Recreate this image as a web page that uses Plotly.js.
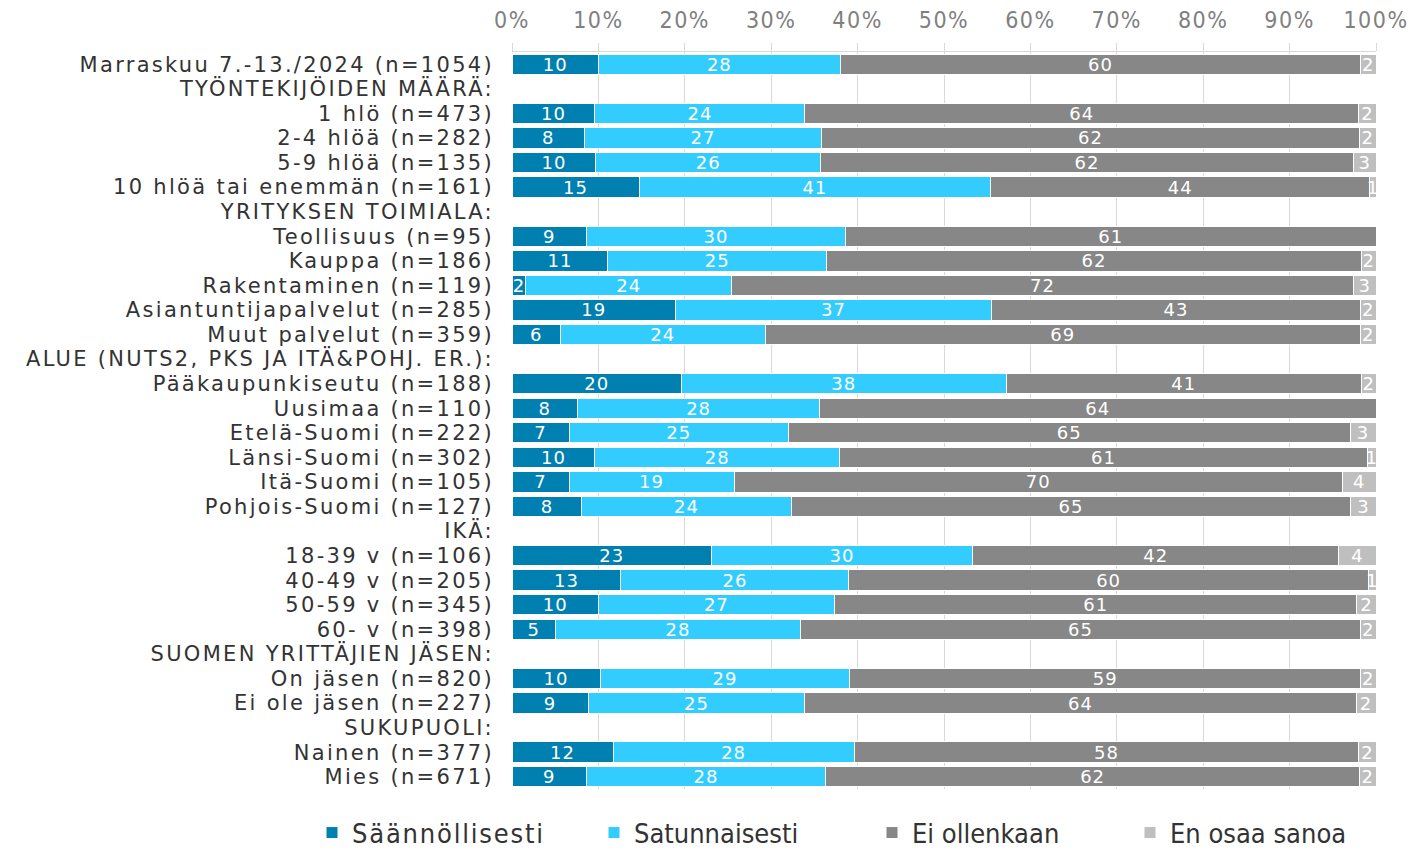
<!DOCTYPE html>
<html>
<head>
<meta charset="utf-8">
<script src="https://cdn.plot.ly/plotly-3.0.1.min.js"></script>
<style>
html,body{margin:0;padding:0;background:#fff;}
#chart{width:1415px;height:850px;}
#chart .ytick text{letter-spacing:2.3px;}
#chart .xtick text{letter-spacing:1.5px;}
#chart .legendtext{letter-spacing:1.8px;}
#chart .bartext{letter-spacing:1px;}
</style>
</head>
<body>
<div id="chart"></div>
<script>
const categories = [
  "Marraskuu 7.-13./2024 (n=1054)",
  "TYÖNTEKIJÖIDEN MÄÄRÄ:",
  "1 hlö (n=473)",
  "2-4 hlöä (n=282)",
  "5-9 hlöä (n=135)",
  "10 hlöä tai enemmän (n=161)",
  "YRITYKSEN TOIMIALA:",
  "Teollisuus (n=95)",
  "Kauppa (n=186)",
  "Rakentaminen (n=119)",
  "Asiantuntijapalvelut (n=285)",
  "Muut palvelut (n=359)",
  "ALUE (NUTS2, PKS JA ITÄ&POHJ. ER.):",
  "Pääkaupunkiseutu (n=188)",
  "Uusimaa (n=110)",
  "Etelä-Suomi (n=222)",
  "Länsi-Suomi (n=302)",
  "Itä-Suomi (n=105)",
  "Pohjois-Suomi (n=127)",
  "IKÄ:",
  "18-39 v (n=106)",
  "40-49 v (n=205)",
  "50-59 v (n=345)",
  "60- v (n=398)",
  "SUOMEN YRITTÄJIEN JÄSEN:",
  "On jäsen (n=820)",
  "Ei ole jäsen (n=227)",
  "SUKUPUOLI:",
  "Nainen (n=377)",
  "Mies (n=671)"
];
const seriesNames = ["Säännöllisesti", "Satunnaisesti", "Ei ollenkaan", "En osaa sanoa"];
const saannollisesti = [10.0, null, 9.6, 8.4, 9.7, 14.7, null, 8.6, 11.1, 1.6, 18.9, 5.6, null, 19.6, 7.6, 6.6, 9.6, 6.6, 8.1, null, 23.1, 12.6, 10.0, 5.0, null, 10.2, 8.8, null, 11.7, 8.6];
const satunnaisesti = [28.0, null, 24.3, 27.4, 26.0, 40.7, null, 30.0, 25.3, 23.8, 36.6, 23.7, null, 37.6, 28.0, 25.4, 28.3, 19.1, 24.2, null, 30.2, 26.4, 27.3, 28.4, null, 28.9, 25.1, null, 27.9, 27.7];
const eiOllenkaan = [60.2, null, 64.1, 62.3, 61.7, 43.9, null, 61.4, 61.9, 72.0, 42.7, 68.9, null, 41.1, 64.4, 65.0, 61.1, 70.4, 64.8, null, 42.4, 60.1, 60.5, 64.8, null, 59.1, 63.8, null, 58.4, 61.8];
const enOsaaSanoa = [1.8, null, 2.0, 1.9, 2.6, 0.7, null, null, 1.7, 2.6, 1.8, 1.8, null, 1.7, null, 3.0, 1.0, 3.9, 2.9, null, 4.3, 0.9, 2.2, 1.8, null, 1.8, 2.3, null, 2.0, 1.9];
const xTickVals = [0, 10, 20, 30, 40, 50, 60, 70, 80, 90, 100];
const xTickText = ["0%", "10%", "20%", "30%", "40%", "50%", "60%", "70%", "80%", "90%", "100%"];

const colors = ["#0080B0", "#33CCFF", "#878787", "#BFBFBF"];
const seriesValues = [saannollisesti, satunnaisesti, eiOllenkaan, enOsaaSanoa];
const legendIds = ["legend", "legend2", "legend3", "legend4"];
const legendX = [312, 594, 872, 1130];

const traces = seriesValues.map((vals, i) => ({
  type: "bar",
  orientation: "h",
  name: seriesNames[i],
  legend: legendIds[i],
  y: categories,
  x: vals,
  marker: {color: colors[i], line: {color: "#ffffff", width: 1}},
  texttemplate: "%{x:.0f}",
  textposition: "inside",
  insidetextanchor: "middle",
  textangle: 0,
  constraintext: "none",
  cliponaxis: true,
  textfont: {family: "DejaVu Sans", size: 18, color: "#ffffff"},
  hoverinfo: "skip"
}));

const layout = {
  width: 1415,
  height: 850,
  barmode: "stack",
  bargap: 0.17,
  margin: {l: 512, r: 39, t: 52, b: 61, autoexpand: false},
  paper_bgcolor: "#ffffff",
  plot_bgcolor: "#ffffff",
  showlegend: true,
  uniformtext: {mode: "show", minsize: 18},
  xaxis: {
    side: "top",
    range: [0, 100],
    tickmode: "array",
    tickvals: xTickVals,
    ticktext: xTickText,
    tickfont: {family: "DejaVu Sans Condensed, DejaVu Sans", size: 23, color: "#808080"},
    ticklabelstandoff: 6,
    showgrid: true,
    gridcolor: "#D9D9D9",
    gridwidth: 1,
    showline: true,
    linecolor: "#D9D9D9",
    ticks: "outside",
    ticklen: 8,
    tickcolor: "#D9D9D9",
    zeroline: false,
    fixedrange: true
  },
  yaxis: {
    type: "category",
    categoryorder: "array",
    categoryarray: categories,
    tickmode: "array",
    tickvals: categories,
    ticktext: categories,
    autorange: "reversed",
    tickfont: {family: "DejaVu Sans", size: 21, color: "#333333"},
    ticks: "",
    ticklen: 0,
    ticklabelstandoff: 17,
    showgrid: false,
    showline: false,
    zeroline: false,
    fixedrange: true
  }
};

legendIds.forEach((id, i) => {
  layout[id] = {
    orientation: "h",
    xref: "container",
    yref: "container",
    x: legendX[i] / 1415, xanchor: "left",
    y: 0.02, yanchor: "middle",
    font: {family: "DejaVu Sans Condensed, DejaVu Sans", size: 27, color: "#333333"},
    itemwidth: 30,
    entrywidth: 205,
    entrywidthmode: "pixels",
    bgcolor: "rgba(0,0,0,0)"
  };
});

Plotly.newPlot("chart", traces, layout, {displayModeBar: false, staticPlot: true});
</script>
</body>
</html>
